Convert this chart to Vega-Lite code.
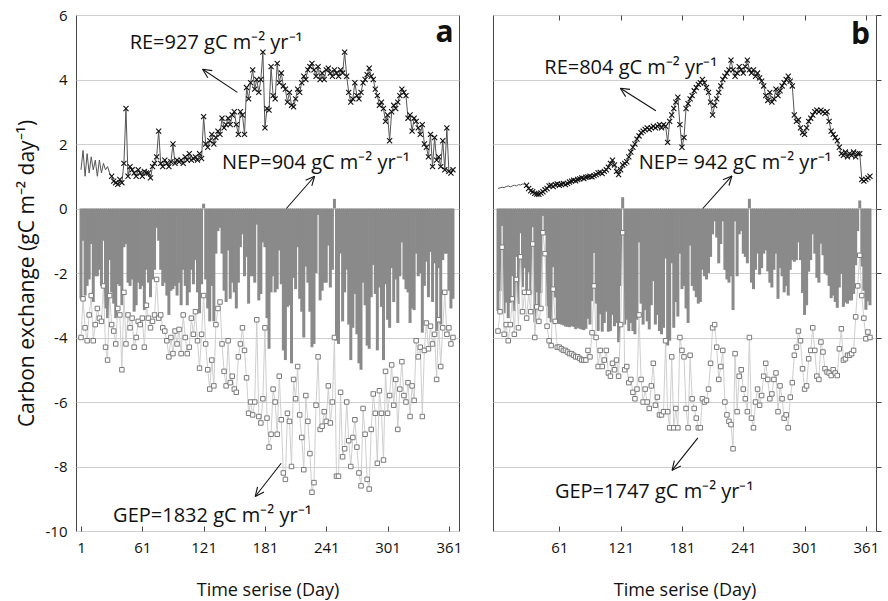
{
"$schema":"https://vega.github.io/schema/vega-lite/v6.json",
"padding":{"left":15,"top":7,"right":5,"bottom":0},
"background":"white",
"bounds":"flush",
"spacing":34,
"config":{"view":{"stroke":"#444","strokeWidth":1},"font":"Open Sans",
"axis":{"labelFont":"Open Sans","titleFont":"Open Sans","labelColor":"#111","titleColor":"#111","titleFontWeight":"normal","labelFontSize":15,"titleFontSize":18,"labelExpr":"replace(datum.label, '−', '-')"}},
"datasets":{
"a":[{"d":1,"r":1.2,"g":-4.0,"n":-2.8},{"d":3,"r":1.8,"g":-2.8,"n":-1.0},{"d":5,"r":1.0,"g":-3.7,"n":-2.7},{"d":7,"r":1.7,"g":-4.1,"n":-2.4},{"d":9,"r":1.1,"g":-3.3,"n":-2.2},{"d":11,"r":1.6,"g":-2.7,"n":-1.1},{"d":13,"r":1.2,"g":-4.1,"n":-2.9},{"d":15,"r":1.5,"g":-3.6,"n":-2.1},{"d":17,"r":1.0,"g":-3.1,"n":-2.1},{"d":19,"r":1.5,"g":-3.4,"n":-1.9},{"d":21,"r":1.1,"g":-3.5,"n":-2.4},{"d":23,"r":1.4,"g":-2.4,"n":-1.0},{"d":25,"r":1.2,"g":-4.3,"n":-3.1},{"d":27,"r":1.3,"g":-4.7,"n":-3.4},{"d":29,"r":1.1,"g":-2.7,"n":-1.6},{"d":31,"r":1.0,"g":-3.6,"n":-2.6},{"d":33,"r":0.85,"g":-3.8,"n":-2.95},{"d":35,"r":0.8,"g":-4.2,"n":-3.4},{"d":37,"r":0.75,"g":-3.1,"n":-2.35},{"d":39,"r":0.9,"g":-3.3,"n":-2.4},{"d":41,"r":0.8,"g":-5.0,"n":-3.0},{"d":43,"r":1.4,"g":-2.6,"n":-1.2},{"d":45,"r":3.1,"g":-4.2,"n":-1.1},{"d":47,"r":1.0,"g":-3.3,"n":-2.3},{"d":49,"r":1.3,"g":-3.7,"n":-2.4},{"d":51,"r":1.2,"g":-3.4,"n":-2.2},{"d":53,"r":1.1,"g":-4.3,"n":-3.2},{"d":55,"r":1.0,"g":-4.0,"n":-3.0},{"d":57,"r":1.2,"g":-3.5,"n":-2.3},{"d":59,"r":1.1,"g":-3.6,"n":-2.5},{"d":61,"r":1.0,"g":-3.4,"n":-2.4},{"d":63,"r":1.15,"g":-4.3,"n":-3.15},{"d":65,"r":1.1,"g":-3.0,"n":-1.9},{"d":67,"r":1.1,"g":-3.4,"n":-2.3},{"d":69,"r":0.95,"g":-3.7,"n":-2.75},{"d":71,"r":1.3,"g":-3.5,"n":-2.2},{"d":73,"r":1.4,"g":-3.3,"n":-1.9},{"d":75,"r":1.6,"g":-2.2,"n":-0.6},{"d":77,"r":2.4,"g":-3.4,"n":-1.0},{"d":79,"r":1.4,"g":-3.3,"n":-1.9},{"d":81,"r":1.3,"g":-3.7,"n":-2.4},{"d":83,"r":1.5,"g":-3.8,"n":-2.3},{"d":85,"r":1.4,"g":-4.1,"n":-2.7},{"d":87,"r":1.3,"g":-4.6,"n":-3.3},{"d":89,"r":1.45,"g":-4.0,"n":-2.55},{"d":91,"r":2.0,"g":-4.5,"n":-2.5},{"d":93,"r":1.4,"g":-3.8,"n":-2.4},{"d":95,"r":1.5,"g":-4.2,"n":-2.7},{"d":97,"r":1.45,"g":-3.75,"n":-2.3},{"d":99,"r":1.5,"g":-4.5,"n":-3.0},{"d":101,"r":1.4,"g":-3.3,"n":-1.9},{"d":103,"r":1.6,"g":-4.0,"n":-2.4},{"d":105,"r":1.5,"g":-4.5,"n":-3.0},{"d":107,"r":1.7,"g":-4.3,"n":-2.6},{"d":109,"r":1.5,"g":-3.4,"n":-1.9},{"d":111,"r":1.55,"g":-3.9,"n":-2.35},{"d":113,"r":1.6,"g":-3.2,"n":-1.6},{"d":115,"r":1.5,"g":-4.1,"n":-2.6},{"d":117,"r":1.7,"g":-4.95,"n":-3.25},{"d":119,"r":1.55,"g":-3.9,"n":-2.35},{"d":121,"r":2.85,"g":-2.7,"n":0.15},{"d":123,"r":2.0,"g":-4.2,"n":-2.2},{"d":125,"r":1.9,"g":-5.0,"n":-3.1},{"d":127,"r":2.1,"g":-5.6,"n":-3.5},{"d":129,"r":2.3,"g":-4.7,"n":-2.4},{"d":131,"r":2.0,"g":-5.5,"n":-3.5},{"d":133,"r":2.2,"g":-3.6,"n":-1.4},{"d":135,"r":2.4,"g":-3.1,"n":-0.7},{"d":137,"r":2.3,"g":-2.9,"n":-0.6},{"d":139,"r":2.8,"g":-4.2,"n":-1.4},{"d":141,"r":2.5,"g":-5.05,"n":-2.55},{"d":143,"r":2.6,"g":-5.5,"n":-2.9},{"d":145,"r":2.8,"g":-4.1,"n":-1.3},{"d":147,"r":2.6,"g":-5.4,"n":-2.8},{"d":149,"r":2.9,"g":-5.2,"n":-2.3},{"d":151,"r":3.0,"g":-5.6,"n":-2.6},{"d":153,"r":2.6,"g":-5.7,"n":-3.1},{"d":155,"r":2.3,"g":-4.6,"n":-2.3},{"d":157,"r":3.0,"g":-4.2,"n":-1.2},{"d":159,"r":2.9,"g":-3.7,"n":-0.8},{"d":161,"r":2.3,"g":-4.4,"n":-2.1},{"d":163,"r":3.75,"g":-5.25,"n":-1.5},{"d":165,"r":3.4,"g":-6.35,"n":-2.95},{"d":167,"r":3.9,"g":-6.0,"n":-2.1},{"d":169,"r":4.3,"g":-6.4,"n":-2.1},{"d":171,"r":3.7,"g":-6.0,"n":-2.3},{"d":173,"r":4.0,"g":-3.45,"n":-0.5},{"d":175,"r":3.6,"g":-6.45,"n":-2.85},{"d":177,"r":4.0,"g":-6.65,"n":-2.65},{"d":179,"r":4.85,"g":-5.9,"n":-1.05},{"d":181,"r":2.5,"g":-3.7,"n":-1.2},{"d":183,"r":3.1,"g":-6.5,"n":-3.4},{"d":185,"r":3.05,"g":-7.4,"n":-4.35},{"d":187,"r":4.4,"g":-7.0,"n":-2.6},{"d":189,"r":3.5,"g":-5.6,"n":-2.1},{"d":191,"r":3.4,"g":-6.0,"n":-2.6},{"d":193,"r":4.5,"g":-7.0,"n":-2.5},{"d":195,"r":3.9,"g":-5.2,"n":-1.3},{"d":197,"r":4.2,"g":-6.55,"n":-2.35},{"d":199,"r":3.8,"g":-8.2,"n":-4.4},{"d":201,"r":3.7,"g":-8.4,"n":-4.7},{"d":203,"r":3.3,"g":-6.35,"n":-3.05},{"d":205,"r":3.6,"g":-6.6,"n":-3.0},{"d":207,"r":3.2,"g":-8.0,"n":-4.8},{"d":209,"r":3.15,"g":-5.3,"n":-2.15},{"d":211,"r":3.4,"g":-5.9,"n":-2.5},{"d":213,"r":3.7,"g":-4.9,"n":-1.2},{"d":215,"r":3.6,"g":-6.4,"n":-2.8},{"d":217,"r":3.9,"g":-7.1,"n":-3.2},{"d":219,"r":4.1,"g":-8.1,"n":-4.0},{"d":221,"r":4.0,"g":-5.8,"n":-1.8},{"d":223,"r":4.3,"g":-6.6,"n":-2.3},{"d":225,"r":4.4,"g":-7.6,"n":-3.2},{"d":227,"r":4.5,"g":-8.8,"n":-4.3},{"d":229,"r":4.3,"g":-8.5,"n":-4.2},{"d":231,"r":4.1,"g":-6.1,"n":-2.0},{"d":233,"r":4.4,"g":-4.6,"n":-0.2},{"d":235,"r":4.0,"g":-6.85,"n":-2.85},{"d":237,"r":4.2,"g":-6.75,"n":-2.55},{"d":239,"r":4.0,"g":-6.3,"n":-2.3},{"d":241,"r":4.3,"g":-6.6,"n":-2.3},{"d":243,"r":4.35,"g":-5.5,"n":-1.15},{"d":245,"r":4.2,"g":-6.65,"n":-2.45},{"d":247,"r":4.1,"g":-6.0,"n":-1.9},{"d":249,"r":4.3,"g":-4.0,"n":0.3},{"d":251,"r":4.2,"g":-8.3,"n":-4.1},{"d":253,"r":4.1,"g":-8.3,"n":-4.2},{"d":255,"r":4.3,"g":-5.7,"n":-1.4},{"d":257,"r":4.2,"g":-7.7,"n":-3.5},{"d":259,"r":4.85,"g":-7.45,"n":-2.6},{"d":261,"r":4.1,"g":-6.0,"n":-1.9},{"d":263,"r":3.6,"g":-7.2,"n":-3.6},{"d":265,"r":3.3,"g":-8.0,"n":-4.7},{"d":267,"r":3.4,"g":-7.1,"n":-3.7},{"d":269,"r":3.9,"g":-6.55,"n":-2.65},{"d":271,"r":3.5,"g":-7.4,"n":-3.9},{"d":273,"r":3.4,"g":-8.2,"n":-4.8},{"d":275,"r":3.6,"g":-8.6,"n":-5.0},{"d":277,"r":3.9,"g":-6.2,"n":-2.3},{"d":279,"r":4.0,"g":-7.0,"n":-3.0},{"d":281,"r":4.15,"g":-8.4,"n":-4.25},{"d":283,"r":4.35,"g":-8.7,"n":-4.35},{"d":285,"r":4.1,"g":-6.85,"n":-2.75},{"d":287,"r":4.0,"g":-5.75,"n":-1.75},{"d":289,"r":3.7,"g":-6.35,"n":-2.65},{"d":291,"r":3.5,"g":-7.9,"n":-4.4},{"d":293,"r":3.2,"g":-5.65,"n":-2.45},{"d":295,"r":3.3,"g":-6.35,"n":-3.05},{"d":297,"r":3.1,"g":-7.8,"n":-4.7},{"d":299,"r":2.7,"g":-5.05,"n":-2.35},{"d":301,"r":2.9,"g":-6.35,"n":-3.45},{"d":303,"r":2.1,"g":-5.8,"n":-3.7},{"d":305,"r":3.0,"g":-4.85,"n":-1.85},{"d":307,"r":3.2,"g":-6.1,"n":-2.9},{"d":309,"r":3.1,"g":-5.3,"n":-2.2},{"d":311,"r":3.3,"g":-6.85,"n":-3.55},{"d":313,"r":3.5,"g":-5.6,"n":-2.1},{"d":315,"r":3.7,"g":-4.75,"n":-1.05},{"d":317,"r":3.6,"g":-5.8,"n":-2.2},{"d":319,"r":3.5,"g":-6.0,"n":-2.5},{"d":321,"r":2.8,"g":-5.4,"n":-2.6},{"d":323,"r":2.9,"g":-6.45,"n":-3.55},{"d":325,"r":2.4,"g":-5.5,"n":-3.1},{"d":327,"r":2.8,"g":-5.95,"n":-3.15},{"d":329,"r":2.7,"g":-4.1,"n":-1.4},{"d":331,"r":2.5,"g":-4.6,"n":-2.1},{"d":333,"r":2.3,"g":-4.3,"n":-2.0},{"d":335,"r":2.6,"g":-6.45,"n":-3.85},{"d":337,"r":2.0,"g":-4.4,"n":-2.4},{"d":339,"r":1.9,"g":-3.55,"n":-1.65},{"d":341,"r":1.6,"g":-4.35,"n":-2.75},{"d":343,"r":2.3,"g":-3.65,"n":-1.35},{"d":345,"r":1.3,"g":-4.2,"n":-2.9},{"d":347,"r":2.2,"g":-3.9,"n":-1.7},{"d":349,"r":1.5,"g":-5.3,"n":-3.8},{"d":351,"r":1.6,"g":-3.45,"n":-1.85},{"d":353,"r":1.3,"g":-4.9,"n":-3.6},{"d":355,"r":2.1,"g":-3.7,"n":-1.6},{"d":357,"r":1.2,"g":-2.6,"n":-1.4},{"d":359,"r":2.5,"g":-3.9,"n":-1.4},{"d":361,"r":1.15,"g":-3.7,"n":-2.55},{"d":363,"r":1.1,"g":-4.2,"n":-3.1},{"d":365,"r":1.2,"g":-4.0,"n":-2.8}],
"b":[{"d":1,"r":0.62,"g":-3.8,"n":-3.18},{"d":3,"r":0.64,"g":-3.2,"n":-2.56},{"d":5,"r":0.66,"g":-1.2,"n":-0.54},{"d":7,"r":0.65,"g":-3.9,"n":-3.25},{"d":9,"r":0.68,"g":-3.6,"n":-2.92},{"d":11,"r":0.7,"g":-4.1,"n":-3.4},{"d":13,"r":0.67,"g":-3.6,"n":-2.93},{"d":15,"r":0.7,"g":-2.8,"n":-2.1},{"d":17,"r":0.72,"g":-3.9,"n":-3.18},{"d":19,"r":0.7,"g":-2.2,"n":-1.5},{"d":21,"r":0.74,"g":-3.7,"n":-2.96},{"d":23,"r":0.73,"g":-1.5,"n":-0.77},{"d":25,"r":0.76,"g":-3.2,"n":-2.44},{"d":27,"r":0.75,"g":-2.6,"n":-1.85},{"d":29,"r":0.72,"g":-3.4,"n":-2.68},{"d":31,"r":0.62,"g":-2.6,"n":-1.98},{"d":33,"r":0.55,"g":-3.2,"n":-2.65},{"d":35,"r":0.52,"g":-1.1,"n":-0.58},{"d":37,"r":0.47,"g":-4.0,"n":-3.53},{"d":39,"r":0.45,"g":-3.05,"n":-2.6},{"d":41,"r":0.44,"g":-3.5,"n":-3.06},{"d":43,"r":0.48,"g":-3.1,"n":-2.62},{"d":45,"r":0.52,"g":-0.75,"n":-0.23},{"d":47,"r":0.58,"g":-1.4,"n":-0.82},{"d":49,"r":0.62,"g":-3.65,"n":-3.03},{"d":51,"r":0.7,"g":-4.1,"n":-3.4},{"d":53,"r":0.72,"g":-4.25,"n":-3.53},{"d":55,"r":0.68,"g":-2.5,"n":-1.82},{"d":57,"r":0.74,"g":-3.5,"n":-2.76},{"d":59,"r":0.76,"g":-4.3,"n":-3.54},{"d":61,"r":0.72,"g":-4.3,"n":-3.58},{"d":63,"r":0.75,"g":-4.35,"n":-3.6},{"d":65,"r":0.78,"g":-4.4,"n":-3.62},{"d":67,"r":0.74,"g":-4.4,"n":-3.66},{"d":69,"r":0.78,"g":-4.45,"n":-3.67},{"d":71,"r":0.82,"g":-4.5,"n":-3.68},{"d":73,"r":0.85,"g":-4.5,"n":-3.65},{"d":75,"r":0.88,"g":-4.55,"n":-3.67},{"d":77,"r":0.86,"g":-4.6,"n":-3.74},{"d":79,"r":0.9,"g":-4.6,"n":-3.7},{"d":81,"r":0.92,"g":-4.65,"n":-3.73},{"d":83,"r":0.95,"g":-4.7,"n":-3.75},{"d":85,"r":0.93,"g":-4.7,"n":-3.77},{"d":87,"r":0.97,"g":-4.7,"n":-3.73},{"d":89,"r":0.98,"g":-4.4,"n":-3.42},{"d":91,"r":1.0,"g":-4.6,"n":-3.6},{"d":93,"r":0.98,"g":-3.85,"n":-2.87},{"d":95,"r":1.02,"g":-2.4,"n":-1.38},{"d":97,"r":1.05,"g":-4.0,"n":-2.95},{"d":99,"r":1.1,"g":-4.9,"n":-3.8},{"d":101,"r":1.12,"g":-4.4,"n":-3.28},{"d":103,"r":1.08,"g":-4.9,"n":-3.82},{"d":105,"r":1.15,"g":-4.7,"n":-3.55},{"d":107,"r":1.2,"g":-4.4,"n":-3.2},{"d":109,"r":1.28,"g":-5.1,"n":-3.82},{"d":111,"r":1.4,"g":-5.2,"n":-3.8},{"d":113,"r":1.5,"g":-4.8,"n":-3.3},{"d":115,"r":1.35,"g":-5.0,"n":-3.65},{"d":117,"r":1.15,"g":-4.7,"n":-3.55},{"d":119,"r":1.05,"g":-5.2,"n":-4.15},{"d":121,"r":1.2,"g":-3.6,"n":-2.4},{"d":123,"r":1.35,"g":-0.75,"n":0.35},{"d":125,"r":1.4,"g":-5.0,"n":-3.6},{"d":127,"r":1.45,"g":-4.9,"n":-3.45},{"d":129,"r":1.6,"g":-5.4,"n":-3.8},{"d":131,"r":1.75,"g":-5.3,"n":-3.55},{"d":133,"r":1.9,"g":-5.7,"n":-3.8},{"d":135,"r":2.0,"g":-5.9,"n":-3.9},{"d":137,"r":2.15,"g":-5.6,"n":-3.45},{"d":139,"r":2.25,"g":-3.3,"n":-1.05},{"d":141,"r":2.35,"g":-5.3,"n":-2.95},{"d":143,"r":2.4,"g":-6.0,"n":-3.6},{"d":145,"r":2.45,"g":-5.6,"n":-3.15},{"d":147,"r":2.5,"g":-6.0,"n":-3.5},{"d":149,"r":2.45,"g":-6.2,"n":-3.75},{"d":151,"r":2.5,"g":-5.5,"n":-3.0},{"d":153,"r":2.55,"g":-4.8,"n":-2.25},{"d":155,"r":2.5,"g":-6.1,"n":-3.6},{"d":157,"r":2.55,"g":-5.85,"n":-3.3},{"d":159,"r":2.6,"g":-6.4,"n":-3.8},{"d":161,"r":2.5,"g":-6.4,"n":-3.9},{"d":163,"r":2.6,"g":-6.3,"n":-3.7},{"d":165,"r":2.55,"g":-4.1,"n":-1.55},{"d":167,"r":2.05,"g":-6.3,"n":-4.25},{"d":169,"r":2.7,"g":-6.8,"n":-4.1},{"d":171,"r":2.9,"g":-4.6,"n":-1.7},{"d":173,"r":3.1,"g":-6.8,"n":-3.7},{"d":175,"r":3.3,"g":-6.2,"n":-2.9},{"d":177,"r":3.45,"g":-6.8,"n":-3.35},{"d":179,"r":2.6,"g":-4.0,"n":-1.4},{"d":181,"r":1.9,"g":-4.4,"n":-2.5},{"d":183,"r":2.2,"g":-4.6,"n":-2.4},{"d":185,"r":3.1,"g":-6.2,"n":-3.1},{"d":187,"r":3.25,"g":-6.8,"n":-3.55},{"d":189,"r":3.4,"g":-4.55,"n":-1.15},{"d":191,"r":3.5,"g":-5.9,"n":-2.4},{"d":193,"r":3.65,"g":-6.2,"n":-2.55},{"d":195,"r":3.75,"g":-6.5,"n":-2.75},{"d":197,"r":3.85,"g":-6.8,"n":-2.95},{"d":199,"r":3.9,"g":-6.8,"n":-2.9},{"d":201,"r":4.0,"g":-5.9,"n":-1.9},{"d":203,"r":3.9,"g":-6.0,"n":-2.1},{"d":205,"r":3.75,"g":-5.95,"n":-2.2},{"d":207,"r":3.6,"g":-5.6,"n":-2.0},{"d":209,"r":3.3,"g":-4.8,"n":-1.5},{"d":211,"r":2.9,"g":-3.7,"n":-0.8},{"d":213,"r":3.2,"g":-3.6,"n":-0.4},{"d":215,"r":3.4,"g":-4.3,"n":-0.9},{"d":217,"r":3.6,"g":-5.3,"n":-1.7},{"d":219,"r":3.8,"g":-4.9,"n":-1.1},{"d":221,"r":4.0,"g":-4.4,"n":-0.4},{"d":223,"r":4.1,"g":-6.0,"n":-1.9},{"d":225,"r":4.2,"g":-6.4,"n":-2.2},{"d":227,"r":4.3,"g":-6.6,"n":-2.3},{"d":229,"r":4.6,"g":-6.7,"n":-2.1},{"d":231,"r":4.3,"g":-7.45,"n":-3.15},{"d":233,"r":4.1,"g":-4.5,"n":-0.4},{"d":235,"r":4.2,"g":-6.3,"n":-2.1},{"d":237,"r":4.4,"g":-5.2,"n":-0.8},{"d":239,"r":4.3,"g":-5.0,"n":-0.7},{"d":241,"r":4.2,"g":-5.6,"n":-1.4},{"d":243,"r":4.4,"g":-5.9,"n":-1.5},{"d":245,"r":4.6,"g":-6.3,"n":-1.7},{"d":247,"r":4.3,"g":-4.0,"n":0.3},{"d":249,"r":4.2,"g":-6.5,"n":-2.3},{"d":251,"r":4.3,"g":-6.8,"n":-2.5},{"d":253,"r":4.1,"g":-6.0,"n":-1.9},{"d":255,"r":4.2,"g":-5.6,"n":-1.4},{"d":257,"r":4.05,"g":-6.1,"n":-2.05},{"d":259,"r":3.95,"g":-5.8,"n":-1.85},{"d":261,"r":3.8,"g":-5.2,"n":-1.4},{"d":263,"r":3.5,"g":-4.8,"n":-1.3},{"d":265,"r":3.35,"g":-5.3,"n":-1.95},{"d":267,"r":3.6,"g":-5.9,"n":-2.3},{"d":269,"r":3.3,"g":-5.75,"n":-2.45},{"d":271,"r":3.4,"g":-5.3,"n":-1.9},{"d":273,"r":3.7,"g":-5.1,"n":-1.4},{"d":275,"r":3.5,"g":-6.3,"n":-2.8},{"d":277,"r":3.65,"g":-5.5,"n":-1.85},{"d":279,"r":3.8,"g":-5.9,"n":-2.1},{"d":281,"r":3.9,"g":-6.5,"n":-2.6},{"d":283,"r":4.0,"g":-6.4,"n":-2.4},{"d":285,"r":4.1,"g":-6.8,"n":-2.7},{"d":287,"r":3.95,"g":-5.85,"n":-1.9},{"d":289,"r":3.8,"g":-5.4,"n":-1.6},{"d":291,"r":2.9,"g":-4.55,"n":-1.65},{"d":293,"r":2.7,"g":-4.3,"n":-1.6},{"d":295,"r":2.75,"g":-3.8,"n":-1.05},{"d":297,"r":2.5,"g":-4.1,"n":-1.6},{"d":299,"r":2.35,"g":-4.97,"n":-2.62},{"d":301,"r":2.3,"g":-5.6,"n":-3.3},{"d":303,"r":2.5,"g":-5.5,"n":-3.0},{"d":305,"r":2.7,"g":-4.66,"n":-1.96},{"d":307,"r":2.8,"g":-4.4,"n":-1.6},{"d":309,"r":2.9,"g":-3.7,"n":-0.8},{"d":311,"r":3.0,"g":-4.4,"n":-1.4},{"d":313,"r":3.05,"g":-5.2,"n":-2.15},{"d":315,"r":3.0,"g":-5.3,"n":-2.3},{"d":317,"r":3.05,"g":-4.14,"n":-1.09},{"d":319,"r":3.0,"g":-4.45,"n":-1.45},{"d":321,"r":2.95,"g":-4.97,"n":-2.02},{"d":323,"r":3.0,"g":-5.07,"n":-2.07},{"d":325,"r":2.7,"g":-5.1,"n":-2.4},{"d":327,"r":2.4,"g":-5.18,"n":-2.78},{"d":329,"r":2.3,"g":-5.0,"n":-2.7},{"d":331,"r":2.2,"g":-5.1,"n":-2.9},{"d":333,"r":2.1,"g":-5.18,"n":-3.08},{"d":335,"r":1.9,"g":-4.35,"n":-2.45},{"d":337,"r":1.7,"g":-3.73,"n":-2.03},{"d":339,"r":1.65,"g":-4.7,"n":-3.05},{"d":341,"r":1.75,"g":-4.66,"n":-2.91},{"d":343,"r":1.6,"g":-4.55,"n":-2.95},{"d":345,"r":1.7,"g":-4.55,"n":-2.85},{"d":347,"r":1.65,"g":-4.5,"n":-2.85},{"d":349,"r":1.75,"g":-4.4,"n":-2.65},{"d":351,"r":1.6,"g":-3.36,"n":-1.76},{"d":353,"r":1.7,"g":-2.4,"n":-0.7},{"d":355,"r":1.7,"g":-1.45,"n":0.25},{"d":357,"r":0.9,"g":-2.7,"n":-1.8},{"d":359,"r":0.85,"g":-3.4,"n":-2.55},{"d":361,"r":0.9,"g":-4.04,"n":-3.14},{"d":363,"r":0.95,"g":-3.83,"n":-2.88},{"d":365,"r":1.0,"g":-4.0,"n":-3.0}],
"atxt":[{"d":48.6,"v":4.94,"t":"RE=927 gC m⁻² yr⁻¹"},{"d":139,"v":1.21,"t":"NEP=904 gC m⁻² yr⁻¹"},{"d":32.4,"v":-9.71,"t":"GEP=1832 gC m⁻² yr⁻¹"},{"d":356.7,"v":5.15,"t":"a","b":1}],
"btxt":[{"d":46.3,"v":4.17,"t":"RE=804 gC m⁻² yr⁻¹"},{"d":138.7,"v":1.22,"t":"NEP= 942 gC m⁻² yr⁻¹"},{"d":56.7,"v":-8.97,"t":"GEP=1747 gC m⁻² yr⁻¹"},{"d":355.7,"v":5.1,"t":"b","b":1}],
"aarr":[{"d":154,"v":3.6,"d2":120,"v2":4.32},{"d":120,"v":4.32,"d2":125.05,"v2":4.057},{"d":120,"v":4.32,"d2":129.46,"v2":4.276},{"d":202,"v":0,"d2":229.6,"v2":1.0},{"d":229.6,"v":1.0,"d2":220.8,"v2":0.878},{"d":229.6,"v":1.0,"d2":226.84,"v2":0.703},{"d":196.9,"v":-7.9,"d2":171.5,"v2":-8.93},{"d":171.5,"v":-8.93,"d2":180.08,"v2":-8.793},{"d":171.5,"v":-8.93,"d2":173.77,"v2":-8.628}],
"barr":[{"d":155.5,"v":3.03,"d2":120.7,"v2":3.73},{"d":120.7,"v":3.73,"d2":125.93,"v2":3.47},{"d":120.7,"v":3.73,"d2":130.19,"v2":3.693},{"d":201.4,"v":0,"d2":229.9,"v2":1.01},{"d":229.9,"v":1.01,"d2":221.08,"v2":0.891},{"d":229.9,"v":1.01,"d2":227.04,"v2":0.714},{"d":196.6,"v":-7.11,"d2":171.3,"v2":-8.12},{"d":171.3,"v":-8.12,"d2":179.9,"v2":-7.985},{"d":171.3,"v":-8.12,"d2":173.63,"v2":-7.819}]
},
"hconcat":[
{"width":383,"height":516,
"layer":[
{"data":{"name":"a"},"mark":{"type":"bar","size":3,"color":"#8a8a8a"},
"encoding":{"x":{"field":"d","type":"quantitative","scale":{"domain":[1,366],"nice":false,"zero":false},"axis":{"values":[1,61,121,181,241,301,361],"title":"Time serise (Day)","grid":false,"domain":false,"labelFlush":false,"tickSize":-5,"tickColor":"#444","labelPadding":14,"titlePadding":26}},
"y":{"field":"n","type":"quantitative","scale":{"domain":[-10,6],"nice":false},"axis":{"values":[-10,-8,-6,-4,-2,0,2,4,6],"title":"Carbon exchange (gC m⁻² day⁻¹)","titleFontSize":21,"grid":true,"gridColor":"#cfcfcf","domain":false,"ticks":false,"labelPadding":9,"titlePadding":8}}}},
{"data":{"name":"a"},"mark":{"type":"line","color":"#cfcfcf","strokeWidth":1},"encoding":{"x":{"field":"d","type":"quantitative"},"y":{"field":"g","type":"quantitative"}}},
{"data":{"name":"a"},"mark":{"type":"point","shape":"square","size":20,"filled":true,"fill":"white","stroke":"#7a7a7a","strokeWidth":1,"opacity":1},"encoding":{"x":{"field":"d","type":"quantitative"},"y":{"field":"g","type":"quantitative"}}},
{"data":{"name":"a"},"mark":{"type":"line","color":"#555","strokeWidth":1},"encoding":{"x":{"field":"d","type":"quantitative"},"y":{"field":"r","type":"quantitative"}}},
{"data":{"name":"a"},"transform":[{"filter":"datum.d>=31"}],"mark":{"type":"point","shape":"M-1,-1L1,1M-1,1L1,-1","size":26,"filled":false,"stroke":"#111","strokeWidth":1.1,"opacity":1},"encoding":{"x":{"field":"d","type":"quantitative"},"y":{"field":"r","type":"quantitative"}}},
{"mark":{"type":"rule","color":"#222","strokeWidth":1.5},"encoding":{"y":{"datum":0}}},
{"data":{"name":"aarr"},"mark":{"type":"rule","color":"#111","strokeWidth":1.1},"encoding":{"x":{"field":"d","type":"quantitative"},"y":{"field":"v","type":"quantitative"},"x2":{"field":"d2"},"y2":{"field":"v2"}}},
{"data":{"name":"atxt"},"transform":[{"filter":"datum.b!=1"}],"mark":{"type":"text","align":"left","baseline":"alphabetic","fontSize":20,"font":"Open Sans","color":"#111"},"encoding":{"x":{"field":"d","type":"quantitative"},"y":{"field":"v","type":"quantitative"},"text":{"field":"t"}}},
{"data":{"name":"atxt"},"transform":[{"filter":"datum.b==1"}],"mark":{"type":"text","align":"center","baseline":"alphabetic","fontSize":30,"fontWeight":"bold","font":"Open Sans","color":"#111"},"encoding":{"x":{"field":"d","type":"quantitative"},"y":{"field":"v","type":"quantitative"},"text":{"field":"t"}}}
]},
{"width":383,"height":516,
"resolve":{"axis":{"x":"independent"}},
"layer":[
{"data":{"name":"b"},"mark":{"type":"bar","size":3,"color":"#8a8a8a"},
"encoding":{"x":{"field":"d","type":"quantitative","scale":{"domain":[1,366],"nice":false,"zero":false},"axis":{"values":[61,121,181,241,301,361],"title":"Time serise (Day)","grid":false,"domain":false,"labelFlush":false,"tickSize":-5,"tickColor":"#444","labelPadding":14,"titlePadding":26}},
"y":{"field":"n","type":"quantitative","scale":{"domain":[-10,6],"nice":false},"axis":{"values":[-10,-8,-6,-4,-2,0,2,4,6],"orient":"right","title":null,"labels":false,"grid":true,"gridColor":"#cfcfcf","domain":false,"ticks":true,"tickSize":5,"tickColor":"#444"}}}},
{"data":{"name":"b"},"mark":{"type":"line","color":"#cfcfcf","strokeWidth":1},"encoding":{"x":{"field":"d","type":"quantitative","axis":{"orient":"top","values":[61,121,181,241,301,361],"labels":false,"title":null,"grid":false,"domain":false,"tickSize":-5,"tickColor":"#444"}},"y":{"field":"g","type":"quantitative"}}},
{"data":{"name":"b"},"mark":{"type":"point","shape":"square","size":20,"filled":true,"fill":"white","stroke":"#7a7a7a","strokeWidth":1,"opacity":1},"encoding":{"x":{"field":"d","type":"quantitative","axis":null},"y":{"field":"g","type":"quantitative"}}},
{"data":{"name":"b"},"mark":{"type":"line","color":"#555","strokeWidth":1},"encoding":{"x":{"field":"d","type":"quantitative","axis":null},"y":{"field":"r","type":"quantitative"}}},
{"data":{"name":"b"},"transform":[{"filter":"datum.d>=29"}],"mark":{"type":"point","shape":"M-1,-1L1,1M-1,1L1,-1","size":26,"filled":false,"stroke":"#111","strokeWidth":1.1,"opacity":1},"encoding":{"x":{"field":"d","type":"quantitative","axis":null},"y":{"field":"r","type":"quantitative"}}},
{"mark":{"type":"rule","color":"#222","strokeWidth":1.5},"encoding":{"y":{"datum":0}}},
{"data":{"name":"barr"},"mark":{"type":"rule","color":"#111","strokeWidth":1.1},"encoding":{"x":{"field":"d","type":"quantitative","axis":null},"y":{"field":"v","type":"quantitative"},"x2":{"field":"d2"},"y2":{"field":"v2"}}},
{"data":{"name":"btxt"},"transform":[{"filter":"datum.b!=1"}],"mark":{"type":"text","align":"left","baseline":"alphabetic","fontSize":20,"font":"Open Sans","color":"#111"},"encoding":{"x":{"field":"d","type":"quantitative","axis":null},"y":{"field":"v","type":"quantitative"},"text":{"field":"t"}}},
{"data":{"name":"btxt"},"transform":[{"filter":"datum.b==1"}],"mark":{"type":"text","align":"center","baseline":"alphabetic","fontSize":30,"fontWeight":"bold","font":"Open Sans","color":"#111"},"encoding":{"x":{"field":"d","type":"quantitative","axis":null},"y":{"field":"v","type":"quantitative"},"text":{"field":"t"}}}
]}
]
}
